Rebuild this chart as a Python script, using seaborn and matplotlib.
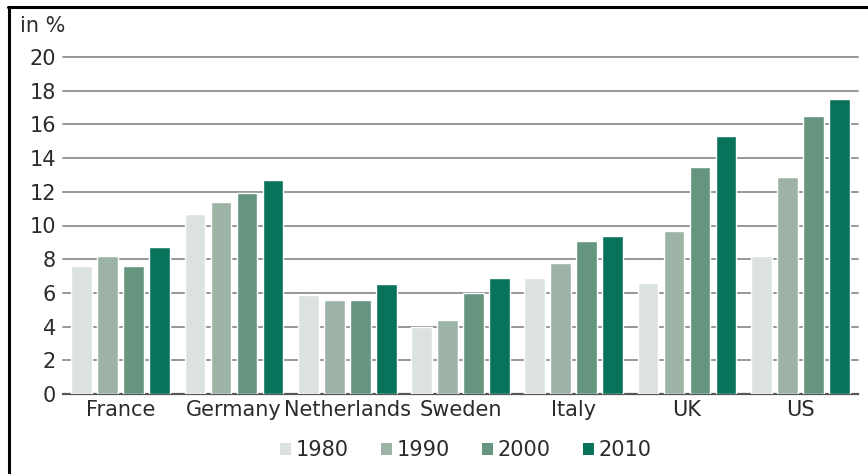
import matplotlib
matplotlib.use("Agg")
import matplotlib.pyplot as plt
from matplotlib.lines import Line2D
from matplotlib.patches import Rectangle
import pandas as pd
import seaborn as sns

countries = ["France", "Germany", "Netherlands", "Sweden", "Italy", "UK", "US"]
years = ["1980", "1990", "2000", "2010"]
v1980 = [7.6, 10.7, 5.9, 4.0, 6.9, 6.6, 8.2]
v1990 = [8.2, 11.4, 5.6, 4.4, 7.8, 9.7, 12.9]
v2000 = [7.6, 11.9, 5.6, 6.0, 9.1, 13.5, 16.5]
v2010 = [8.7, 12.7, 6.5, 6.9, 9.4, 15.3, 17.5]
y_ticks = [0, 2, 4, 6, 8, 10, 12, 14, 16, 18, 20]
colors = ["#dce3df", "#9db3a6", "#66957f", "#08735a"]

rows = []
for yr, vals in zip(years, [v1980, v1990, v2000, v2010]):
    for c, v in zip(countries, vals):
        rows.append({"country": c, "year": yr, "value": v})
df = pd.DataFrame(rows)

sns.set_theme(style="white")
plt.rcParams["font.family"] = ["DejaVu Sans"]
text_color = "#2b2b2b"
fs = 15

fig = plt.figure(figsize=(8.68, 4.74), dpi=100)
ax = fig.add_axes([63 / 868, 1 - 394 / 474, 795 / 868, 337 / 474])

sns.barplot(data=df, x="country", y="value", hue="year", order=countries,
            hue_order=years, palette=colors, width=0.92, gap=0.2,
            saturation=1, errorbar=None, ax=ax, zorder=3, legend=False)

ax.set_ylim(0, 20)
ax.set_xlim(-0.51, 6.51)
ax.set_yticks(y_ticks)
ax.set_yticklabels([str(t) for t in y_ticks])
ax.yaxis.grid(True, color="#8f8f8f", linewidth=1.3, zorder=0)
ax.xaxis.grid(False)
ax.set_axisbelow(True)
for gl in ax.get_ygridlines():
    gl.set_clip_on(False)
for side in ["top", "right", "left"]:
    ax.spines[side].set_visible(False)
ax.spines["bottom"].set_color("#555555")
ax.spines["bottom"].set_linewidth(1.6)
ax.tick_params(axis="y", length=0, pad=5, labelsize=fs, labelcolor=text_color)
ax.tick_params(axis="x", length=0, pad=4, labelsize=fs, labelcolor=text_color)
ax.set_xlabel("")
ax.set_ylabel("")

fig.text(20 / 868, 1 - 32 / 474, "in %", fontsize=fs, color=text_color,
         va="baseline", ha="left")

handles = [Rectangle((0, 0), 1, 1, facecolor=c, edgecolor="none") for c in colors]
fig.legend(handles, years, loc="center", bbox_to_anchor=(466 / 868, 1 - 450 / 474),
           ncol=4, frameon=False, fontsize=fs, handlelength=0.5, handleheight=0.5,
           handletextpad=0.25, columnspacing=1.55, labelcolor=text_color)

# frame lines along the left and top edges
fig.add_artist(Line2D([9 / 868, 9 / 868], [0, 1 - 7 / 474], color="black",
                      linewidth=2.2, transform=fig.transFigure))
fig.add_artist(Line2D([8 / 868, 1], [1 - 7 / 474, 1 - 7 / 474], color="black",
                      linewidth=2.2, transform=fig.transFigure))

fig.savefig("out.png", dpi=100)
